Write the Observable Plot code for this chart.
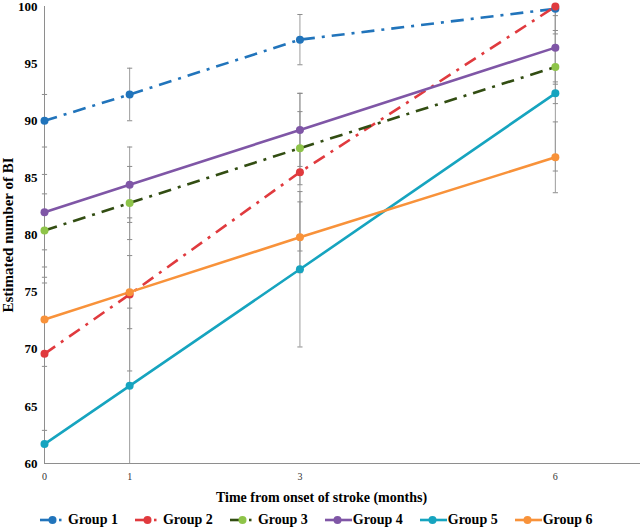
<!DOCTYPE html>
<html>
<head>
<meta charset="utf-8">
<script src="https://cdn.jsdelivr.net/npm/d3@7"></script>
<script src="https://cdn.jsdelivr.net/npm/@observablehq/plot@0.6"></script>
<style>
  html, body { margin: 0; padding: 0; background: #fff; }
  #wrap { width: 641px; font-family: "Liberation Serif", "Times New Roman", serif; }
  #xtitle { text-align: center; font-weight: bold; font-size: 14px; height: 20px; line-height: 20px; margin-left: 2px; margin-top: 3px; }
  #legend { display: flex; gap: 17px; padding-left: 40px; height: 22px; margin-top: 1px; align-items: center; font-weight: bold; font-size: 14px; }
  .item { display: flex; align-items: center; gap: 1px; }
  .item svg { display: block; }
</style>
</head>
<body>
<div id="wrap">
  <div id="chart"></div>
  <div id="xtitle">Time from onset of stroke (months)</div>
  <div id="legend"></div>
</div>
<script>
// ---- data ----
const months = [0, 1, 3, 6];
const groups = ["Group 1", "Group 2", "Group 3", "Group 4", "Group 5", "Group 6"];
const yTicks = [60, 65, 70, 75, 80, 85, 90, 95, 100];
const yTitle = "Estimated number of BI";

const group1 = [90.0, 92.3, 97.1, 99.8];
const group2 = [69.6, 74.8, 85.5, 100.0];
const group3 = [80.4, 82.8, 87.6, 94.7];
const group4 = [82.0, 84.4, 89.2, 96.4];
const group5 = [61.7, 66.8, 77.0, 92.4];
const group6 = [72.6, 75.0, 79.8, 86.8];

const err1 = [2.3, 2.3, 2.2, 2.2];
const err2 = [6.7, 6.7, 6.9, 6.6];
const err3 = [3.2, 3.2, 3.2, 3.2];
const err4 = [3.3, 3.3, 3.2, 3.2];
const err5 = [6.8, 6.8, 6.8, 6.8];
const err6 = [3.2, 3.2, 3.1, 3.1];

// ---- styles ----
const series = [group1, group2, group3, group4, group5, group6];
const errs = [err1, err2, err3, err4, err5, err6];
const lineColors = ["#2174bb", "#e03a3e", "#324d12", "#7f56a6", "#16a4bf", "#f8923a"];
const dotColors  = ["#2174bb", "#e03a3e", "#8ec449", "#7f56a6", "#16a4bf", "#f8923a"];
const dashes = ["13,7,3,7", "13,7,3,7", "13,7,3,7", null, null, null];

const rows = [];
groups.forEach((g, gi) => months.forEach((m, i) => {
  const v = series[gi][i], e = errs[gi][i];
  rows.push({group: g, gi, month: m, value: v, hi: v + e, lo: v - e});
}));
const errRows = rows.map(d => ({...d, lo: Math.max(60, d.lo), hi: Math.min(100, d.hi)}));
const caps = [];
rows.forEach(d => {
  if (d.hi <= 100) caps.push({month: d.month, y: d.hi});
  if (d.lo >= 60) caps.push({month: d.month, y: d.lo});
});

const hbar = {
  draw(context, size) {
    const r = Math.sqrt(size / Math.PI);
    context.moveTo(-r, 0);
    context.lineTo(r, 0);
  }
};

const marks = [
  Plot.ruleX(errRows, {x: "month", y1: "lo", y2: "hi", stroke: "#9c9c9c", strokeWidth: 1}),
  Plot.dot(caps, {x: "month", y: "y", symbol: hbar, r: 2.6, stroke: "#8c8c8c", strokeWidth: 1}),
  Plot.ruleX([0], {stroke: "#8e8e8e", strokeWidth: 1}),
  Plot.ruleY([60], {stroke: "#8e8e8e", strokeWidth: 1}),
  Plot.axisY({ticks: yTicks, tickSize: 0, tickPadding: 7, fontSize: 13, fontWeight: "bold", label: null, fill: "#000"}),
  Plot.axisX({ticks: months, tickSize: 0, tickPadding: 9, fontSize: 10, label: null, fill: "#333", tickFormat: d => String(d)}),
  Plot.text([yTitle], {text: d => d, frameAnchor: "left", textAnchor: "middle", rotate: -90, dx: -36, fontSize: 15, fontWeight: "bold", fill: "#000"})
];
groups.forEach((g, gi) => {
  const data = rows.filter(d => d.gi === gi);
  marks.push(Plot.line(data, {x: "month", y: "value", stroke: lineColors[gi], strokeWidth: 2.6,
    strokeDasharray: dashes[gi] || undefined, strokeLinecap: "butt"}));
});
groups.forEach((g, gi) => {
  const data = rows.filter(d => d.gi === gi);
  marks.push(Plot.dot(data, {x: "month", y: "value", r: 4, fill: dotColors[gi], stroke: "none"}));
});

const chart = Plot.plot({
  width: 641, height: 485,
  marginLeft: 44, marginRight: 1, marginTop: 6, marginBottom: 22,
  style: {fontFamily: "'Liberation Serif', 'Times New Roman', serif", background: "#fff", color: "#000", overflow: "visible"},
  x: {type: "linear", domain: [0, 7]},
  y: {type: "linear", domain: [60, 100]},
  marks
});
document.getElementById("chart").appendChild(chart);

// ---- legend ----
const legend = document.getElementById("legend");
groups.forEach((g, gi) => {
  const item = document.createElement("div");
  item.className = "item";
  const ns = "http://www.w3.org/2000/svg";
  const svg = document.createElementNS(ns, "svg");
  svg.setAttribute("width", 27); svg.setAttribute("height", 12);
  if (dashes[gi]) {
    const l = document.createElementNS(ns, "line");
    l.setAttribute("x1", 0); l.setAttribute("x2", 12); l.setAttribute("y1", 6); l.setAttribute("y2", 6);
    l.setAttribute("stroke", lineColors[gi]); l.setAttribute("stroke-width", 2.6);
    svg.appendChild(l);
    const l2 = document.createElementNS(ns, "line");
    l2.setAttribute("x1", 19); l2.setAttribute("x2", 21.5); l2.setAttribute("y1", 6); l2.setAttribute("y2", 6);
    l2.setAttribute("stroke", lineColors[gi]); l2.setAttribute("stroke-width", 2.6);
    svg.appendChild(l2);
  } else {
    const l = document.createElementNS(ns, "line");
    l.setAttribute("x1", 0); l.setAttribute("x2", 27); l.setAttribute("y1", 6); l.setAttribute("y2", 6);
    l.setAttribute("stroke", lineColors[gi]); l.setAttribute("stroke-width", 2.6);
    svg.appendChild(l);
  }
  const c = document.createElementNS(ns, "circle");
  c.setAttribute("cx", 12.5); c.setAttribute("cy", 6); c.setAttribute("r", 4);
  c.setAttribute("fill", dotColors[gi]);
  svg.appendChild(c);
  item.appendChild(svg);
  const t = document.createElement("span");
  t.textContent = g;
  item.appendChild(t);
  legend.appendChild(item);
});
</script>
</body>
</html>
